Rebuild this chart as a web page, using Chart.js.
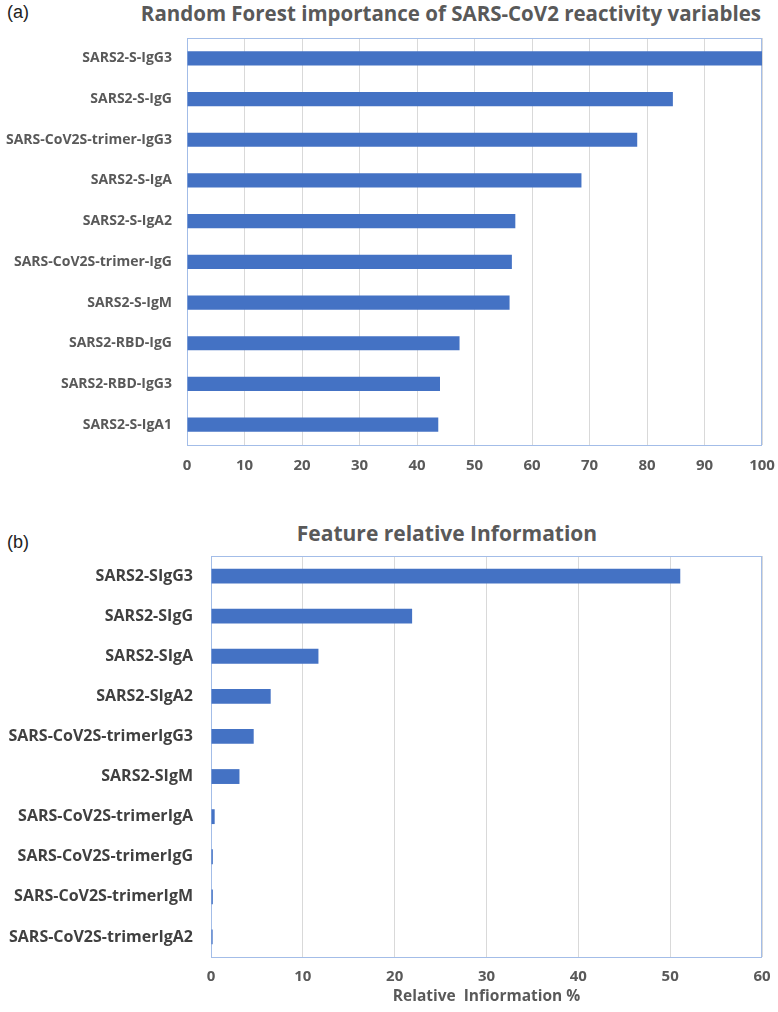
<!DOCTYPE html>
<html>
<head>
<meta charset="utf-8">
<title>SARS-CoV2 reactivity variables</title>
<script src="https://cdn.jsdelivr.net/npm/chart.js@4.4.0/dist/chart.umd.min.js"></script>
<style>
  body { margin: 0; background: #fff; }
  #page { position: relative; width: 778px; height: 1012px; overflow: hidden; font-family: "Open Sans", sans-serif; }
  .panel { position: absolute; left: 7px; font-family: "Liberation Sans", Arial, sans-serif; font-size: 18px; line-height: 18px; color: #222; }
  .title { position: absolute; font-weight: 700; color: #595959; white-space: nowrap; }
  #titleA { right: 17px; top: 1px; font-size: 20.5px; line-height: 24px; }
  #titleB { left: 197px; width: 500px; text-align: center; top: 520px; font-size: 21px; line-height: 26px; }
  canvas { position: absolute; left: 0; }
</style>
</head>
<body>
<div id="page">
  <div class="panel" style="top:3px">(a)</div>
  <div class="title" id="titleA">Random Forest importance of SARS-CoV2 reactivity variables</div>
  <canvas id="chartA" width="778" height="490" style="top:0"></canvas>

  <div class="panel" style="top:533px">(b)</div>
  <div class="title" id="titleB">Feature relative Information</div>
  <canvas id="chartB" width="778" height="512" style="top:500px"></canvas>
</div>
<script>
// ---------- data (a) ----------
const labelsA = [
  'SARS2-S-IgG3', 'SARS2-S-IgG', 'SARS-CoV2S-trimer-IgG3', 'SARS2-S-IgA', 'SARS2-S-IgA2',
  'SARS-CoV2S-trimer-IgG', 'SARS2-S-IgM', 'SARS2-RBD-IgG', 'SARS2-RBD-IgG3', 'SARS2-S-IgA1'
];
const valuesA = [100, 84.5, 78.3, 68.6, 57.1, 56.5, 56.1, 47.4, 44.0, 43.7];
const ticksA = [0, 10, 20, 30, 40, 50, 60, 70, 80, 90, 100];

// ---------- data (b) ----------
const labelsB = [
  'SARS2-SIgG3', 'SARS2-SIgG', 'SARS2-SIgA', 'SARS2-SIgA2', 'SARS-CoV2S-trimerIgG3',
  'SARS2-SIgM', 'SARS-CoV2S-trimerIgA', 'SARS-CoV2S-trimerIgG', 'SARS-CoV2S-trimerIgM', 'SARS-CoV2S-trimerIgA2'
];
const valuesB = [51.1, 21.9, 11.7, 6.5, 4.65, 3.1, 0.4, 0.2, 0.2, 0.18];
const ticksB = [0, 10, 20, 30, 40, 50, 60];
const xTitleB = 'Relative  Infiormation %';

const barColor = '#4472c4';
const gridColor = '#d9d9d9';
const frameColor = '#a3bde8';

Chart.defaults.font.family = '"Open Sans", sans-serif';
Chart.defaults.animation = false;

// light blue frame around the plot area
const plotFrame = {
  id: 'plotFrame',
  beforeDatasetsDraw(chart) {
    const { ctx, chartArea: a } = chart;
    ctx.save();
    ctx.strokeStyle = frameColor;
    ctx.lineWidth = 1;
    ctx.strokeRect(Math.round(a.left) + 0.5, Math.round(a.top) + 0.5,
      Math.round(a.right - a.left) - 1, Math.round(a.bottom - a.top));
    ctx.restore();
  }
};

function makeChart(id, labels, values, ticks, opt) {
  const ctx = document.getElementById(id).getContext('2d');
  return new Chart(ctx, {
    type: 'bar',
    data: {
      labels: labels,
      datasets: [{
        data: values,
        backgroundColor: barColor,
        borderWidth: 0,
        categoryPercentage: 1,
        barPercentage: opt.barPct
      }]
    },
    options: {
      indexAxis: 'y',
      responsive: false,
      devicePixelRatio: 1,
      layout: { padding: { left: 0, right: 16, top: opt.padTop, bottom: 0 } },
      plugins: { legend: { display: false }, tooltip: { enabled: false } },
      scales: {
        x: {
          min: ticks[0],
          max: ticks[ticks.length - 1],
          afterBuildTicks: s => { s.ticks = ticks.map(v => ({ value: v })); },
          afterFit: s => { s.height = opt.xHeight; s.paddingLeft = 0; s.paddingRight = 0; },
          grid: { color: gridColor, drawTicks: false },
          border: { display: false },
          ticks: { padding: opt.xPad, color: '#595959', font: { size: 15, weight: 'bold' } },
          title: opt.xTitle ? {
            display: true, text: opt.xTitle, color: '#595959',
            font: { size: 15.5, weight: 'bold', lineHeight: 1.2 }, padding: { top: 0, bottom: 6 }
          } : { display: false }
        },
        y: {
          afterFit: s => { s.width = opt.yWidth; },
          grid: { display: false, drawTicks: false },
          border: { display: false },
          ticks: { padding: opt.yPad, color: opt.yColor, font: { size: opt.ySize, weight: 'bold' } }
        }
      }
    },
    plugins: [plotFrame]
  });
}

makeChart('chartA', labelsA, valuesA, ticksA, {
  barPct: 0.35, padTop: 38, xHeight: 45, xPad: 12, yWidth: 187, yPad: 15, ySize: 14, yColor: '#595959'
});

makeChart('chartB', labelsB, valuesB, ticksB, {
  barPct: 0.37, padTop: 56, xHeight: 55, xPad: 11, yWidth: 211, yPad: 18, ySize: 16, yColor: '#404040',
  xTitle: xTitleB
});
</script>
</body>
</html>
